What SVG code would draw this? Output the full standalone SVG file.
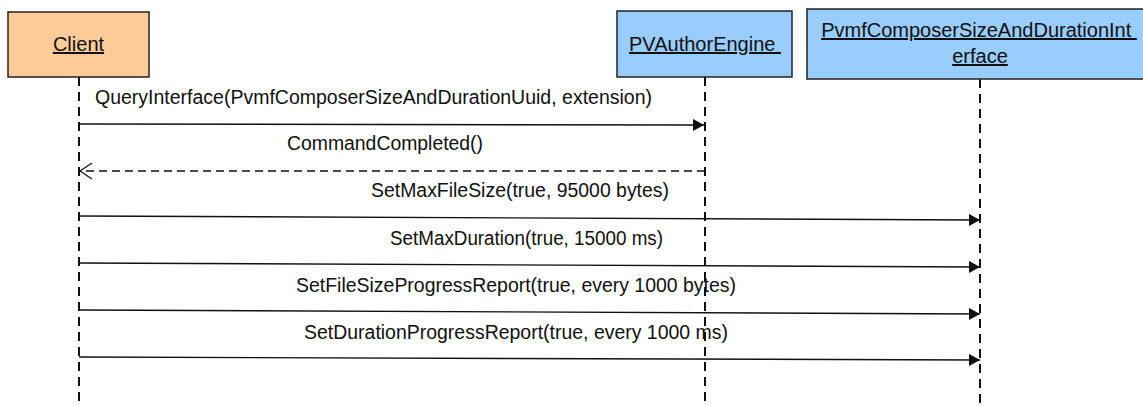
<svg xmlns="http://www.w3.org/2000/svg" width="1143" height="406" viewBox="0 0 1143 406">
<style>
.box{stroke:#222;stroke-width:1.5}
.client{fill:#FFCC99}
.obj{fill:#99CCFF}
.lbl{font-family:"Liberation Sans",Arial,sans-serif;font-size:20px;fill:#111;text-anchor:middle;text-decoration:underline}
.msg{font-family:"Liberation Sans",Arial,sans-serif;font-size:20px;fill:#111}
.life{stroke:#111;stroke-width:2;stroke-dasharray:9 6;fill:none}
.call{stroke:#111;stroke-width:1.4;fill:none}
.ret{stroke:#111;stroke-width:1.4;stroke-dasharray:8 5;fill:none}
</style>
<defs>
<marker id="filled" markerWidth="12" markerHeight="12" refX="11" refY="6" orient="auto" markerUnits="userSpaceOnUse">
<path d="M0,0 L11,6 L0,12 Z" fill="#111"/>
</marker>
<marker id="open" markerWidth="14" markerHeight="18" refX="13" refY="9" orient="auto" markerUnits="userSpaceOnUse">
<path d="M1,1 L13,9 L1,17" fill="none" stroke="#111" stroke-width="1.3"/>
</marker>
</defs>
<g id="lifelines">
<line class="life" x1="79" y1="77" x2="79" y2="406"/>
<line class="life" x1="705" y1="77" x2="705" y2="406"/>
<line class="life" x1="980" y1="79" x2="980" y2="406"/>
</g>
<g id="client">
<rect class="box client" x="8" y="12" width="141" height="65"/>
<text class="lbl" x="78.5" y="51">Client</text>
</g>
<g id="pvauthorengine">
<rect class="box obj" x="617" y="11" width="175" height="66"/>
<text class="lbl" x="705" y="51" xml:space="preserve">PVAuthorEngine </text>
</g>
<g id="sizeduration">
<rect class="box obj" x="807" y="9" width="345" height="70"/>
<text class="lbl" x="979" y="37" xml:space="preserve">PvmfComposerSizeAndDurationInt </text>
<text class="lbl" x="980" y="63">erface</text>
</g>
<g id="connectors">
<line class="call" x1="79" y1="124" x2="704" y2="125" marker-end="url(#filled)"/>
<line class="ret" x1="705" y1="171" x2="80" y2="171" marker-end="url(#open)"/>
<line class="call" x1="79" y1="216" x2="980" y2="220" marker-end="url(#filled)"/>
<line class="call" x1="79" y1="263" x2="980" y2="267" marker-end="url(#filled)"/>
<line class="call" x1="79" y1="310" x2="980" y2="314" marker-end="url(#filled)"/>
<line class="call" x1="79" y1="357" x2="980" y2="360" marker-end="url(#filled)"/>
</g>
<g id="labels">
<text class="msg" x="95" y="104" textLength="557" lengthAdjust="spacingAndGlyphs">QueryInterface(PvmfComposerSizeAndDurationUuid, extension)</text>
<text class="msg" x="287" y="150" textLength="196" lengthAdjust="spacingAndGlyphs">CommandCompleted()</text>
<text class="msg" x="371" y="197" textLength="298" lengthAdjust="spacingAndGlyphs">SetMaxFileSize(true, 95000 bytes)</text>
<text class="msg" x="390" y="245" textLength="273" lengthAdjust="spacingAndGlyphs">SetMaxDuration(true, 15000 ms)</text>
<text class="msg" x="296" y="292" textLength="440" lengthAdjust="spacingAndGlyphs">SetFileSizeProgressReport(true, every 1000 bytes)</text>
<text class="msg" x="304" y="339" textLength="424" lengthAdjust="spacingAndGlyphs">SetDurationProgressReport(true, every 1000 ms)</text>
</g>
</svg>
